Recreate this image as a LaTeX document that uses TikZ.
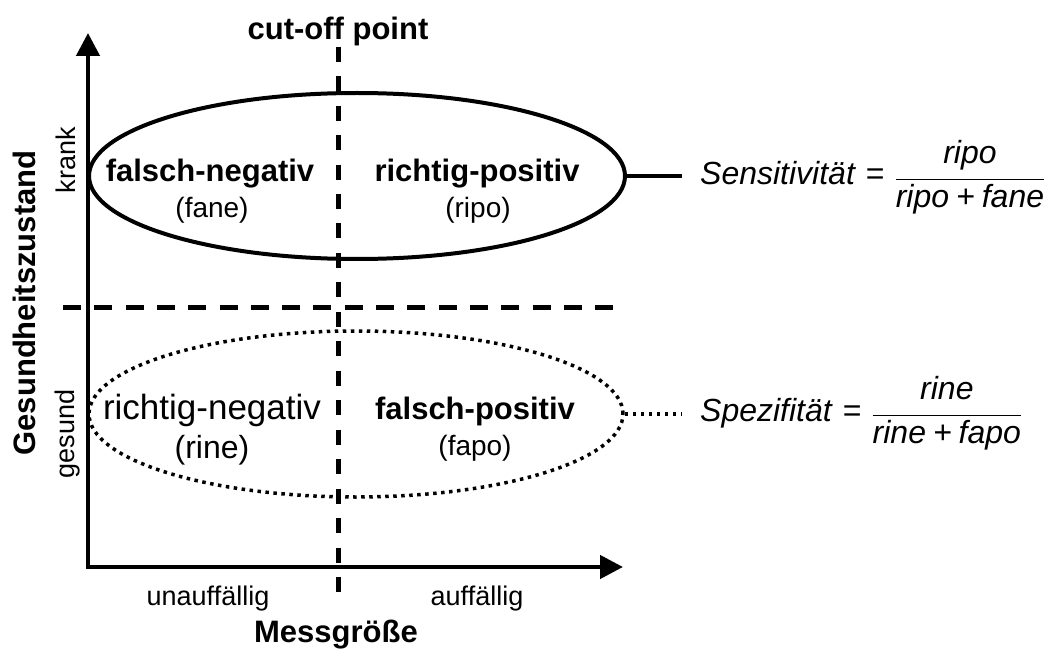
\documentclass[tikz,border=0pt]{standalone}
\usepackage{fontspec}
\setmainfont{Liberation Sans}
\usetikzlibrary{arrows.meta,shapes.geometric}

\tikzset{
  axis/.style={line width=4.5pt, line join=miter,
    {Triangle[length=23pt,width=23pt]}-{Triangle[length=23pt,width=23pt]}},
  vcut/.style={line width=5pt, dash pattern=on 15pt off 14.47pt},
  hcut/.style={line width=5pt, dash pattern=on 18pt off 13.3pt},
  solidline/.style={line width=4pt},
  dotline/.style={line width=3.5pt, dash pattern=on 3.5pt off 4.5pt},
  region/.style={ellipse, draw, inner sep=0pt},
  bigtxt/.style={font=\fontsize{31}{36}\selectfont\bfseries, inner sep=0pt, anchor=base},
  subtxt/.style={font=\fontsize{28}{32}\selectfont, inner sep=0pt, anchor=base},
  axtxt/.style={font=\fontsize{27}{32}\selectfont, inner sep=0pt, anchor=base},
  formula/.style={font=\fontsize{32}{38}\selectfont, inner ysep=0pt, inner xsep=18pt, anchor=base west}
}
\newcommand{\eqsign}{\hspace{11pt}\mbox{=}\hspace{10pt}}
\newcommand{\plussign}{\hspace{7pt}\mbox{+}\hspace{7pt}}
\newcommand{\numtxt}[1]{\raisebox{5pt}{\textit{#1}}}
\newcommand{\dentxt}[1]{\raisebox{-5pt}{\textit{#1}}}

\begin{document}
\begin{tikzpicture}[x=1pt,y=-1pt]
  \useasboundingbox (0,0) rectangle (1053,650);
  % axes
  \coordinate (o) at (88,567);
  \coordinate (ytip) at (88,33);
  \coordinate (xtip) at (623,567);
  \draw[axis] (ytip) -- (o) -- (xtip);
  % cut-off lines
  \node[bigtxt] (cutoff) at (338,40) {cut-off point};
  \coordinate (cbot) at (338,592);
  \coordinate (hleft) at (63,307);
  \coordinate (hright) at (613,307);
  \draw[vcut] (cutoff.south) -- (cbot);
  \draw[hcut] (hleft) -- (hright);
  % regions
  \node[region, solidline, minimum width=536pt, minimum height=166pt] (krank) at (357,176) {};
  \node[region, dotline, minimum width=534pt, minimum height=166pt] (gesund) at (356,414) {};
  \node[bigtxt] (fane) at (210,182) {falsch-negativ};
  \node[subtxt] (fanesub) at (212,218) {(fane)};
  \node[bigtxt] (ripo) at (477,182) {richtig-positiv};
  \node[subtxt] (riposub) at (478,218) {(ripo)};
  \node[axtxt, font=\fontsize{35}{40}\selectfont] (rine) at (212,419) {richtig-negativ};
  \node[axtxt, font=\fontsize{32}{38}\selectfont] (rinesub) at (212,458) {(rine)};
  \node[bigtxt] (fapo) at (475,419) {falsch-positiv};
  \node[subtxt] (faposub) at (475,455) {(fapo)};
  % axis labels
  \node[axtxt] (unauff) at (208,605) {unauffällig};
  \node[axtxt] (auff) at (477,605) {auffällig};
  \node[bigtxt] (mess) at (336,642) {Messgröße};
  \node[axtxt, rotate=90] (kranklbl) at (75,160) {krank};
  \node[axtxt, rotate=90] (gesundlbl) at (74,434) {gesund};
  \node[bigtxt, rotate=90] (zustand) at (35,303) {Gesundheitszustand};
  % formulas
  \node[formula] (sens) at (682,185)
    {$\displaystyle\textit{Sensitivität}\eqsign\frac{\numtxt{ripo}}{\dentxt{ripo\plussign fane}}$};
  \node[formula] (spez) at (682,421)
    {$\displaystyle\textit{Spezifität}\eqsign\frac{\numtxt{rine}}{\dentxt{rine\plussign fapo}}$};
  \draw[solidline] (krank.east) -- (krank.east -| sens.west);
  \draw[dotline] (gesund.east) -- (gesund.east -| spez.west);
\end{tikzpicture}
\end{document}
